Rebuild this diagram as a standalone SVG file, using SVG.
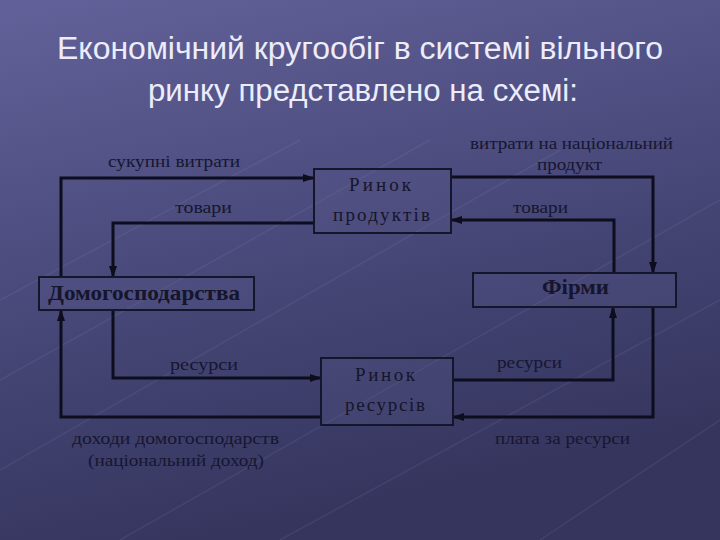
<svg xmlns="http://www.w3.org/2000/svg" width="720" height="540" viewBox="0 0 720 540">
  <defs>
    <linearGradient id="bg" x1="0" y1="0" x2="0.3" y2="1">
      <stop offset="0" stop-color="#62629a"/>
      <stop offset="0.5" stop-color="#4a4a7c"/>
      <stop offset="1" stop-color="#35355e"/>
    </linearGradient>
    <marker id="arr" markerWidth="12" markerHeight="10" refX="11" refY="5" orient="auto" markerUnits="userSpaceOnUse">
      <path d="M0,1 L12,5 L0,9 Z" fill="#0d0d1e"/>
    </marker>
    <style>
      .title { font-family: "Liberation Sans", Arial, sans-serif; font-size: 31px; fill: #ececfa; text-anchor: middle; }
      .lbl { font-family: "Liberation Serif", "Times New Roman", serif; font-size: 17.5px; fill: #161630; }
      .box { fill: #5a5a8e; fill-opacity: 0.25; stroke: #15152c; stroke-width: 2; }
      .nodeb { font-family: "Liberation Serif", "Times New Roman", serif; font-size: 20px; font-weight: bold; fill: #15152c; }
      .mkt { font-family: "Liberation Serif", "Times New Roman", serif; font-size: 19px; fill: #15152c; }
      .conn path { fill: none; stroke: #0d0d1e; stroke-width: 3; marker-end: url(#arr); }
      .deco line { stroke: #9ea0d0; stroke-opacity: 0.12; stroke-width: 1.5; }
    </style>
  </defs>
  <rect width="720" height="540" fill="url(#bg)"/>
  <g class="deco">
    <line x1="0" y1="300" x2="300" y2="140"/>
    <line x1="120" y1="540" x2="720" y2="200"/>
    <line x1="0" y1="470" x2="560" y2="150"/>
    <line x1="280" y1="540" x2="720" y2="300"/>
    <line x1="0" y1="380" x2="430" y2="140"/>
    <line x1="540" y1="540" x2="720" y2="420"/>
  </g>
  <text class="title" x="360" y="59" textLength="606" lengthAdjust="spacingAndGlyphs">Економічний кругообіг в системі вільного</text>
  <text class="title" x="363" y="101" textLength="430" lengthAdjust="spacingAndGlyphs">ринку представлено на схемі:</text>

  <g id="connectors" class="conn">
    <path d="M61,277 V178 H314"/>
    <path d="M314,223 H113 V277"/>
    <path d="M451,177 H653 V273"/>
    <path d="M614,273 V220 H451"/>
    <path d="M113,310 V378 H321"/>
    <path d="M321,417 H61 V310"/>
    <path d="M453,380 H613 V307"/>
    <path d="M653,307 V417 H453"/>
  </g>

  <g id="households">
    <rect class="box" x="39" y="277" width="215" height="33"/>
    <text class="nodeb" x="48" y="300" textLength="192" lengthAdjust="spacingAndGlyphs">Домогосподарства</text>
  </g>
  <g id="firms">
    <rect class="box" x="473" y="273" width="203" height="34"/>
    <text class="nodeb" x="542" y="294" textLength="67" lengthAdjust="spacingAndGlyphs">Фірми</text>
  </g>
  <g id="product-market">
    <rect class="box" x="314" y="169" width="137" height="64"/>
    <text class="mkt" x="349" y="191" textLength="62" lengthAdjust="spacing">Ринок</text>
    <text class="mkt" x="333" y="221" textLength="97" lengthAdjust="spacing">продуктів</text>
  </g>
  <g id="resource-market">
    <rect class="box" x="321" y="358" width="132" height="67"/>
    <text class="mkt" x="355" y="381" textLength="60" lengthAdjust="spacing">Ринок</text>
    <text class="mkt" x="345" y="411" textLength="80" lengthAdjust="spacing">ресурсів</text>
  </g>

  <g id="labels">
    <text class="lbl" x="108" y="167" textLength="132" lengthAdjust="spacingAndGlyphs">сукупні витрати</text>
    <text class="lbl" x="175" y="213" textLength="57" lengthAdjust="spacingAndGlyphs">товари</text>
    <text class="lbl" x="470" y="149" textLength="203" lengthAdjust="spacingAndGlyphs">витрати на національний</text>
    <text class="lbl" x="537" y="170" textLength="65" lengthAdjust="spacingAndGlyphs">продукт</text>
    <text class="lbl" x="513" y="213" textLength="55" lengthAdjust="spacingAndGlyphs">товари</text>
    <text class="lbl" x="170" y="370" textLength="68" lengthAdjust="spacingAndGlyphs">ресурси</text>
    <text class="lbl" x="497" y="368" textLength="65" lengthAdjust="spacingAndGlyphs">ресурси</text>
    <text class="lbl" x="72" y="444" textLength="207" lengthAdjust="spacingAndGlyphs">доходи домогосподарств</text>
    <text class="lbl" x="88" y="466" textLength="176" lengthAdjust="spacingAndGlyphs">(національний доход)</text>
    <text class="lbl" x="495" y="444" textLength="135" lengthAdjust="spacingAndGlyphs">плата за ресурси</text>
  </g>
</svg>
